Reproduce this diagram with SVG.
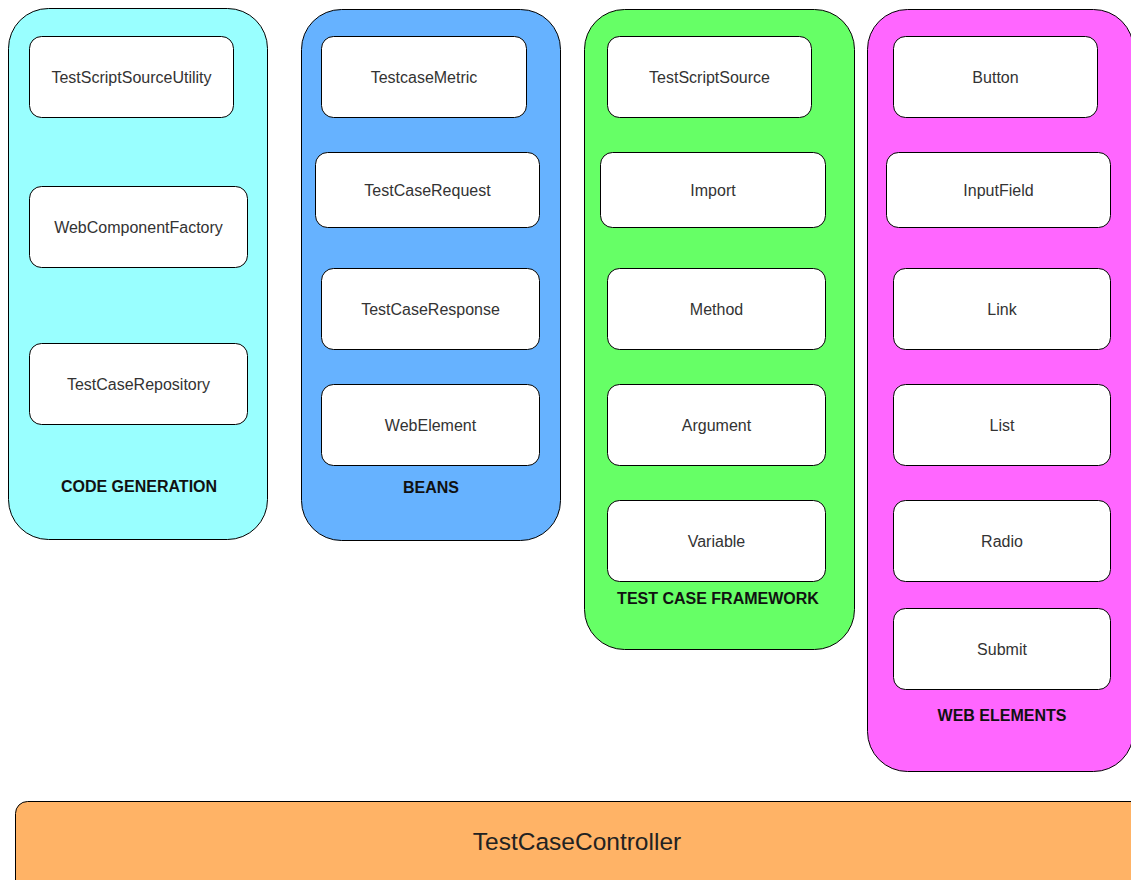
<svg xmlns="http://www.w3.org/2000/svg" width="1131" height="880" viewBox="0 0 1131 880">
<style>
.c{stroke:#000;stroke-width:1}
.b{fill:#fff;stroke:#000;stroke-width:1}
.t{font-family:"Liberation Sans",Arial,sans-serif;font-size:16px;fill:#333;text-anchor:middle;dominant-baseline:central}
.h{font-family:"Liberation Sans",Arial,sans-serif;font-size:16px;font-weight:bold;fill:#111;text-anchor:middle;dominant-baseline:central}
</style>
<rect width="1131" height="880" fill="#fff"/>
<g id="code-generation">
<rect class="c" x="8.5" y="8.5" width="259" height="531" rx="40" fill="#99FFFF"/>
<g id="TestScriptSourceUtility"><rect class="b" x="29.5" y="36.5" width="204" height="81" rx="12"/><text class="t" x="131.5" y="77">TestScriptSourceUtility</text></g>
<g id="WebComponentFactory"><rect class="b" x="29.5" y="186.5" width="218" height="81" rx="12"/><text class="t" x="138.5" y="227">WebComponentFactory</text></g>
<g id="TestCaseRepository"><rect class="b" x="29.5" y="343.5" width="218" height="81" rx="12"/><text class="t" x="138.5" y="384">TestCaseRepository</text></g>
<text class="h" x="139" y="486">CODE GENERATION</text>
</g>
<g id="beans">
<rect class="c" x="301.5" y="9.5" width="259" height="531" rx="40" fill="#66B2FF"/>
<g id="TestcaseMetric"><rect class="b" x="321.5" y="36.5" width="205" height="81" rx="12"/><text class="t" x="424" y="77">TestcaseMetric</text></g>
<g id="TestCaseRequest"><rect class="b" x="315.5" y="152.5" width="224" height="75" rx="12"/><text class="t" x="427.5" y="190">TestCaseRequest</text></g>
<g id="TestCaseResponse"><rect class="b" x="321.5" y="268.5" width="218" height="81" rx="12"/><text class="t" x="430.5" y="309">TestCaseResponse</text></g>
<g id="WebElement"><rect class="b" x="321.5" y="384.5" width="218" height="81" rx="12"/><text class="t" x="430.5" y="425">WebElement</text></g>
<text class="h" x="431" y="487">BEANS</text>
</g>
<g id="test-case-framework">
<rect class="c" x="584.5" y="9.5" width="270" height="640" rx="40" fill="#66FF66"/>
<g id="TestScriptSource"><rect class="b" x="607.5" y="36.5" width="204" height="81" rx="12"/><text class="t" x="709.5" y="77">TestScriptSource</text></g>
<g id="Import"><rect class="b" x="600.5" y="152.5" width="225" height="75" rx="12"/><text class="t" x="713" y="190">Import</text></g>
<g id="Method"><rect class="b" x="607.5" y="268.5" width="218" height="81" rx="12"/><text class="t" x="716.5" y="309">Method</text></g>
<g id="Argument"><rect class="b" x="607.5" y="384.5" width="218" height="81" rx="12"/><text class="t" x="716.5" y="425">Argument</text></g>
<g id="Variable"><rect class="b" x="607.5" y="500.5" width="218" height="81" rx="12"/><text class="t" x="716.5" y="541">Variable</text></g>
<text class="h" x="718" y="598">TEST CASE FRAMEWORK</text>
</g>
<g id="web-elements">
<rect class="c" x="867.5" y="9.5" width="266" height="762" rx="40" fill="#FF66FF"/>
<g id="Button"><rect class="b" x="893.5" y="36.5" width="204" height="81" rx="12"/><text class="t" x="995.5" y="77">Button</text></g>
<g id="InputField"><rect class="b" x="886.5" y="152.5" width="224" height="75" rx="12"/><text class="t" x="998.5" y="190">InputField</text></g>
<g id="Link"><rect class="b" x="893.5" y="268.5" width="217" height="81" rx="12"/><text class="t" x="1002" y="309">Link</text></g>
<g id="List"><rect class="b" x="893.5" y="384.5" width="217" height="81" rx="12"/><text class="t" x="1002" y="425">List</text></g>
<g id="Radio"><rect class="b" x="893.5" y="500.5" width="217" height="81" rx="12"/><text class="t" x="1002" y="541">Radio</text></g>
<g id="Submit"><rect class="b" x="893.5" y="608.5" width="217" height="81" rx="12"/><text class="t" x="1002" y="649">Submit</text></g>
<text class="h" x="1002" y="715">WEB ELEMENTS</text>
</g>
<g id="TestCaseController">
<rect class="c" x="15.5" y="801.5" width="1130" height="100" rx="12" fill="#FFB366"/>
<text class="t" x="577" y="841" style="font-size:24.5px;fill:#222">TestCaseController</text>
</g>
<g id="connectors"/>
</svg>
